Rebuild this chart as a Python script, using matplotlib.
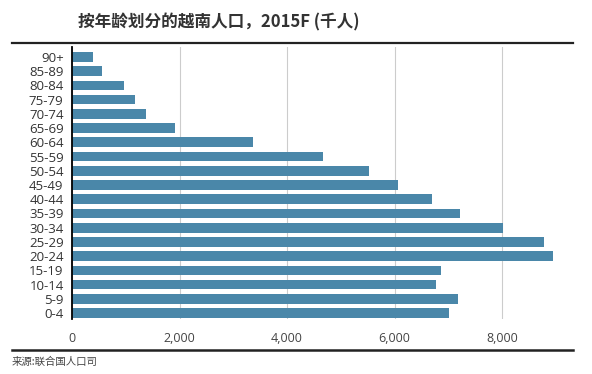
import matplotlib
matplotlib.use("Agg")
import matplotlib.pyplot as plt
from matplotlib.lines import Line2D

plt.rcParams['font.family'] = ['Noto Sans CJK SC', 'DejaVu Sans']

age_groups = ["0-4", "5-9", "10-14", "15-19", "20-24", "25-29", "30-34", "35-39",
              "40-44", "45-49", "50-54", "55-59", "60-64", "65-69", "70-74",
              "75-79", "80-84", "85-89", "90+"]
population = [7010, 7180, 6770, 6870, 8950, 8780, 8020, 7220,
              6700, 6060, 5530, 4670, 3370, 1920, 1380,
              1170, 970, 560, 390]
x_ticks = [0, 2000, 4000, 6000, 8000]
x_tick_labels = ["0", "2,000", "4,000", "6,000", "8,000"]
title = "按年龄划分的越南人口，2015F (千人)"
source = "来源:联合国人口司"

fig = plt.figure(figsize=(5.92, 3.74), dpi=100)
ax = fig.add_axes([72/592, 1-319/374, (573-72)/592, (319-47)/374])

ypos = list(range(len(age_groups)))
ax.barh(ypos, population, height=0.68, color="#4a87a9", zorder=2)
ax.set_yticks(ypos)
ax.set_yticklabels(age_groups, family=['Open Sans', 'DejaVu Sans'])
ax.set_ylim(-0.42, 18.7)
ax.set_xlim(0, 9320)
ax.set_xticks(x_ticks)
ax.set_xticklabels(x_tick_labels, family=['Open Sans', 'DejaVu Sans'])
ax.tick_params(axis='x', length=0, pad=9, labelsize=9, labelcolor="#444444")
ax.tick_params(axis='y', length=0, pad=6, labelsize=9.5, labelcolor="#333333")
for s in ["top", "right", "bottom"]:
    ax.spines[s].set_visible(False)
ax.spines["left"].set_color("black")
ax.spines["left"].set_linewidth(1.3)
ax.grid(axis='x', color="#cccccc", linewidth=0.8, zorder=0)
ax.set_axisbelow(True)

fig.add_artist(Line2D([12/592, 573/592], [1-43/374, 1-43/374], color="#222222", lw=1.6))
fig.add_artist(Line2D([12/592, 573/592], [1-350/374, 1-350/374], color="#222222", lw=1.8))
fig.text(78/592, 1-22/374, title, fontsize=12, fontweight="bold", color="#333333", va="center", ha="left")
fig.text(12/592, 1-362/374, source, fontsize=7.5, color="#444444", va="center", ha="left")

fig.savefig("out.png", dpi=100)
